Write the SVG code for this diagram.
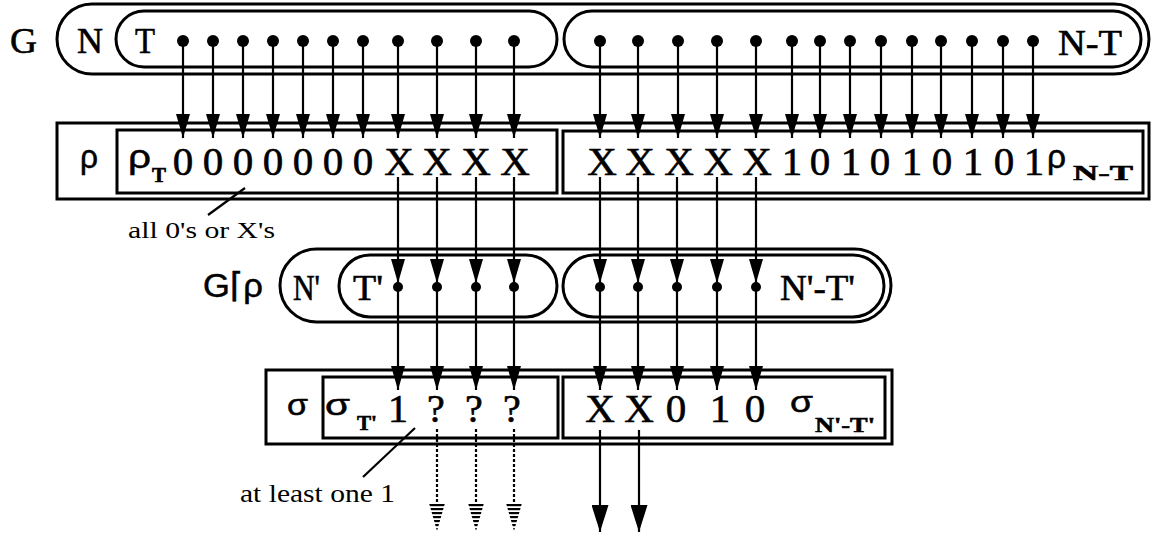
<svg xmlns="http://www.w3.org/2000/svg" width="1155" height="536" viewBox="0 0 1155 536">
<style>
.o{fill:none;stroke:#000;stroke-width:3}
.c{stroke:#000;stroke-width:2.2;fill:none}
.d{stroke:#000;stroke-width:2.2;fill:none;stroke-dasharray:3 2}
.t{font-family:"Liberation Serif",serif;fill:#000;stroke:#000;stroke-width:0.6}
.s{font-family:"Liberation Sans","DejaVu Sans",sans-serif;fill:#000;stroke:#000;stroke-width:0.5}
.l{font-family:"Liberation Serif",serif;fill:#000}
.b{font-weight:bold}
.m{text-anchor:middle}
</style>
<defs>
<marker id="ah" markerUnits="userSpaceOnUse" viewBox="0 0 24 14" markerWidth="24" markerHeight="14" refX="24" refY="7" orient="auto">
<path d="M0,0 L24,7 L0,14 Z" fill="#000"/>
</marker>
<marker id="ahb" markerUnits="userSpaceOnUse" viewBox="0 0 27 17" markerWidth="27" markerHeight="17" refX="27" refY="8.5" orient="auto">
<path d="M0,0 L27,8.5 L0,17 Z" fill="#000"/>
</marker>
<pattern id="stripes" patternUnits="userSpaceOnUse" width="4" height="4">
<rect x="0" y="0" width="4" height="2.2" fill="#000"/>
</pattern>
</defs>

<g id="G">
<text class="t" x="10" y="53" font-size="36" textLength="27" lengthAdjust="spacingAndGlyphs">G</text>
<rect class="o" x="57" y="4" width="1092" height="70" rx="35"/>
<text class="t" x="77" y="53" font-size="36" textLength="26" lengthAdjust="spacingAndGlyphs">N</text>
</g>
<g id="T">
<rect class="o" x="116" y="11" width="441" height="56" rx="28"/>
<text class="t" x="135" y="53" font-size="36" textLength="20" lengthAdjust="spacingAndGlyphs">T</text>
<g fill="#000">
<circle cx="183" cy="41" r="6"/><circle cx="213" cy="41" r="6"/><circle cx="243" cy="41" r="6"/><circle cx="273" cy="41" r="6"/><circle cx="303" cy="41" r="6"/><circle cx="333" cy="41" r="6"/><circle cx="363" cy="41" r="6"/><circle cx="398" cy="41" r="6"/><circle cx="437" cy="41" r="6"/><circle cx="476" cy="41" r="6"/><circle cx="514" cy="41" r="6"/>
</g>
</g>
<g id="NT">
<rect class="o" x="564" y="11" width="577" height="56" rx="28"/>
<text class="t" x="1058" y="55" font-size="36" textLength="64" lengthAdjust="spacingAndGlyphs">N-T</text>
<g fill="#000">
<circle cx="600" cy="41" r="6"/><circle cx="638" cy="41" r="6"/><circle cx="678" cy="41" r="6"/><circle cx="717" cy="41" r="6"/><circle cx="756" cy="41" r="6"/><circle cx="792" cy="41" r="6"/><circle cx="820" cy="41" r="6"/><circle cx="850" cy="41" r="6"/><circle cx="881" cy="41" r="6"/><circle cx="912" cy="41" r="6"/><circle cx="941" cy="41" r="6"/><circle cx="972" cy="41" r="6"/><circle cx="1003" cy="41" r="6"/><circle cx="1033" cy="41" r="6"/>
</g>
</g>

<g id="rho">
<rect class="o" x="57" y="123" width="1092" height="76"/>
<text class="s" x="80" y="168" font-size="34" textLength="18" lengthAdjust="spacingAndGlyphs">ρ</text>
</g>
<g id="rhoT">
<rect class="o" x="117" y="130" width="440" height="63"/>
<text class="s" x="128" y="168" font-size="34" textLength="23" lengthAdjust="spacingAndGlyphs">ρ</text>
<text class="t b" x="152" y="182" font-size="20" textLength="14" lengthAdjust="spacingAndGlyphs">T</text>
<g class="t m" font-size="41">
<text x="183" y="175">0</text><text x="213" y="175">0</text><text x="243" y="175">0</text><text x="273" y="175">0</text><text x="303" y="175">0</text><text x="333" y="175">0</text><text x="363" y="175">0</text>
<text x="399" y="175">X</text><text x="437" y="175">X</text><text x="476" y="175">X</text><text x="515" y="175">X</text>
</g>
</g>
<g id="rhoNT">
<rect class="o" x="563" y="131" width="580" height="62"/>
<g class="t m" font-size="41">
<text x="602" y="175">X</text><text x="640" y="175">X</text><text x="679" y="175">X</text><text x="718" y="175">X</text><text x="757" y="175">X</text>
<text x="792" y="175">1</text><text x="820" y="175">0</text><text x="851" y="175">1</text><text x="880" y="175">0</text><text x="912" y="175">1</text><text x="942" y="175">0</text><text x="973" y="175">1</text><text x="1004" y="175">0</text><text x="1034" y="175">1</text>
</g>
<text class="s" x="1047" y="168" font-size="34" textLength="19" lengthAdjust="spacingAndGlyphs">ρ</text>
<text class="t b" x="1073" y="180" font-size="22" textLength="60" lengthAdjust="spacingAndGlyphs">N-T</text>
</g>

<g id="label-all">
<text class="l" x="128" y="238" font-size="24" textLength="147" lengthAdjust="spacingAndGlyphs">all 0's or X's</text>
</g>

<g id="Grho">
<text class="s" x="203" y="297" font-size="34" textLength="60" lengthAdjust="spacingAndGlyphs">G⌈ρ</text>
<rect class="o" x="280" y="249" width="611" height="73" rx="36.5"/>
<text class="t" x="293" y="300" font-size="36" textLength="27" lengthAdjust="spacingAndGlyphs">N'</text>
</g>
<g id="Tp">
<rect class="o" x="339" y="255" width="218" height="62" rx="31"/>
<text class="t" x="353" y="300" font-size="36" textLength="30" lengthAdjust="spacingAndGlyphs">T'</text>
<g fill="#000"><circle cx="398" cy="287" r="5"/><circle cx="437" cy="287" r="5"/><circle cx="476" cy="287" r="5"/><circle cx="514" cy="287" r="5"/></g>
</g>
<g id="NTp">
<rect class="o" x="563" y="255" width="321" height="62" rx="31"/>
<text class="t" x="780" y="300" font-size="36" textLength="75" lengthAdjust="spacingAndGlyphs">N'-T'</text>
<g fill="#000"><circle cx="600" cy="287" r="5"/><circle cx="638" cy="287" r="5"/><circle cx="677" cy="287" r="5"/><circle cx="717" cy="287" r="5"/><circle cx="756" cy="287" r="5"/></g>
</g>

<g id="sigma">
<rect class="o" x="266" y="370" width="626" height="74"/>
<text class="s" x="287" y="415" font-size="29" stroke-width="1" textLength="21" lengthAdjust="spacingAndGlyphs">σ</text>
</g>
<g id="sigmaT">
<rect class="o" x="323" y="377" width="235" height="61"/>
<text class="s" x="325" y="415" font-size="29" stroke-width="0.8" textLength="25" lengthAdjust="spacingAndGlyphs">σ</text>
<text class="t b" x="357" y="430" font-size="21" textLength="20" lengthAdjust="spacingAndGlyphs">T'</text>
<g class="t m" font-size="40">
<text x="398" y="422">1</text><text x="436" y="422">?</text><text x="474" y="422">?</text><text x="512" y="422">?</text>
</g>
</g>
<g id="sigmaNT">
<rect class="o" x="563" y="377" width="322" height="61"/>
<g class="t m" font-size="41">
<text x="600" y="422">X</text><text x="639" y="422">X</text><text x="676" y="422">0</text><text x="720" y="422">1</text><text x="755" y="422">0</text>
</g>
<text class="s" x="790" y="412" font-size="29" stroke-width="0.8" textLength="23" lengthAdjust="spacingAndGlyphs">σ</text>
<text class="t b" x="815" y="432" font-size="22" textLength="60" lengthAdjust="spacingAndGlyphs">N'-T'</text>
</g>

<g id="label-least">
<text class="l" x="240" y="502" font-size="26" textLength="155" lengthAdjust="spacingAndGlyphs">at least one 1</text>
</g>

<g id="connectors">
<g class="c" marker-end="url(#ah)">
<line x1="183" y1="41" x2="183" y2="138"/><line x1="213" y1="41" x2="213" y2="138"/><line x1="243" y1="41" x2="243" y2="138"/><line x1="273" y1="41" x2="273" y2="138"/><line x1="303" y1="41" x2="303" y2="138"/><line x1="333" y1="41" x2="333" y2="138"/><line x1="363" y1="41" x2="363" y2="138"/><line x1="398" y1="41" x2="398" y2="138"/><line x1="437" y1="41" x2="437" y2="138"/><line x1="476" y1="41" x2="476" y2="138"/><line x1="514" y1="41" x2="514" y2="138"/>
<line x1="600" y1="41" x2="600" y2="138"/><line x1="638" y1="41" x2="638" y2="138"/><line x1="678" y1="41" x2="678" y2="138"/><line x1="717" y1="41" x2="717" y2="138"/><line x1="756" y1="41" x2="756" y2="138"/><line x1="792" y1="41" x2="792" y2="138"/><line x1="820" y1="41" x2="820" y2="138"/><line x1="850" y1="41" x2="850" y2="138"/><line x1="881" y1="41" x2="881" y2="138"/><line x1="912" y1="41" x2="912" y2="138"/><line x1="941" y1="41" x2="941" y2="138"/><line x1="972" y1="41" x2="972" y2="138"/><line x1="1003" y1="41" x2="1003" y2="138"/><line x1="1033" y1="41" x2="1033" y2="138"/>
<line x1="398" y1="177" x2="398" y2="283"/><line x1="437" y1="177" x2="437" y2="283"/><line x1="476" y1="177" x2="476" y2="283"/><line x1="514" y1="177" x2="514" y2="283"/>
<line x1="600" y1="177" x2="600" y2="283"/><line x1="638" y1="177" x2="638" y2="283"/><line x1="677" y1="177" x2="677" y2="283"/><line x1="717" y1="177" x2="717" y2="283"/><line x1="756" y1="177" x2="756" y2="283"/>
<line x1="398" y1="287" x2="398" y2="390"/><line x1="437" y1="287" x2="437" y2="390"/><line x1="476" y1="287" x2="476" y2="390"/><line x1="514" y1="287" x2="514" y2="390"/>
<line x1="600" y1="287" x2="600" y2="390"/><line x1="638" y1="287" x2="638" y2="390"/><line x1="677" y1="287" x2="677" y2="390"/><line x1="717" y1="287" x2="717" y2="390"/><line x1="756" y1="287" x2="756" y2="390"/>
</g>
<g class="c" marker-end="url(#ahb)">
<line x1="600" y1="430" x2="600" y2="532"/><line x1="639" y1="430" x2="639" y2="532"/>
</g>
<g class="d">
<line x1="437" y1="429" x2="437" y2="504"/><line x1="476" y1="429" x2="476" y2="504"/><line x1="514" y1="429" x2="514" y2="504"/>
</g>
<g fill="url(#stripes)">
<polygon points="429,503 445,503 437,531"/><polygon points="468,503 484,503 476,531"/><polygon points="506,503 522,503 514,531"/>
</g>
<g class="c" stroke-width="3">
<line x1="208" y1="215" x2="245" y2="188"/>
<line x1="363" y1="477" x2="415" y2="428"/>
</g>
</g>
</svg>
